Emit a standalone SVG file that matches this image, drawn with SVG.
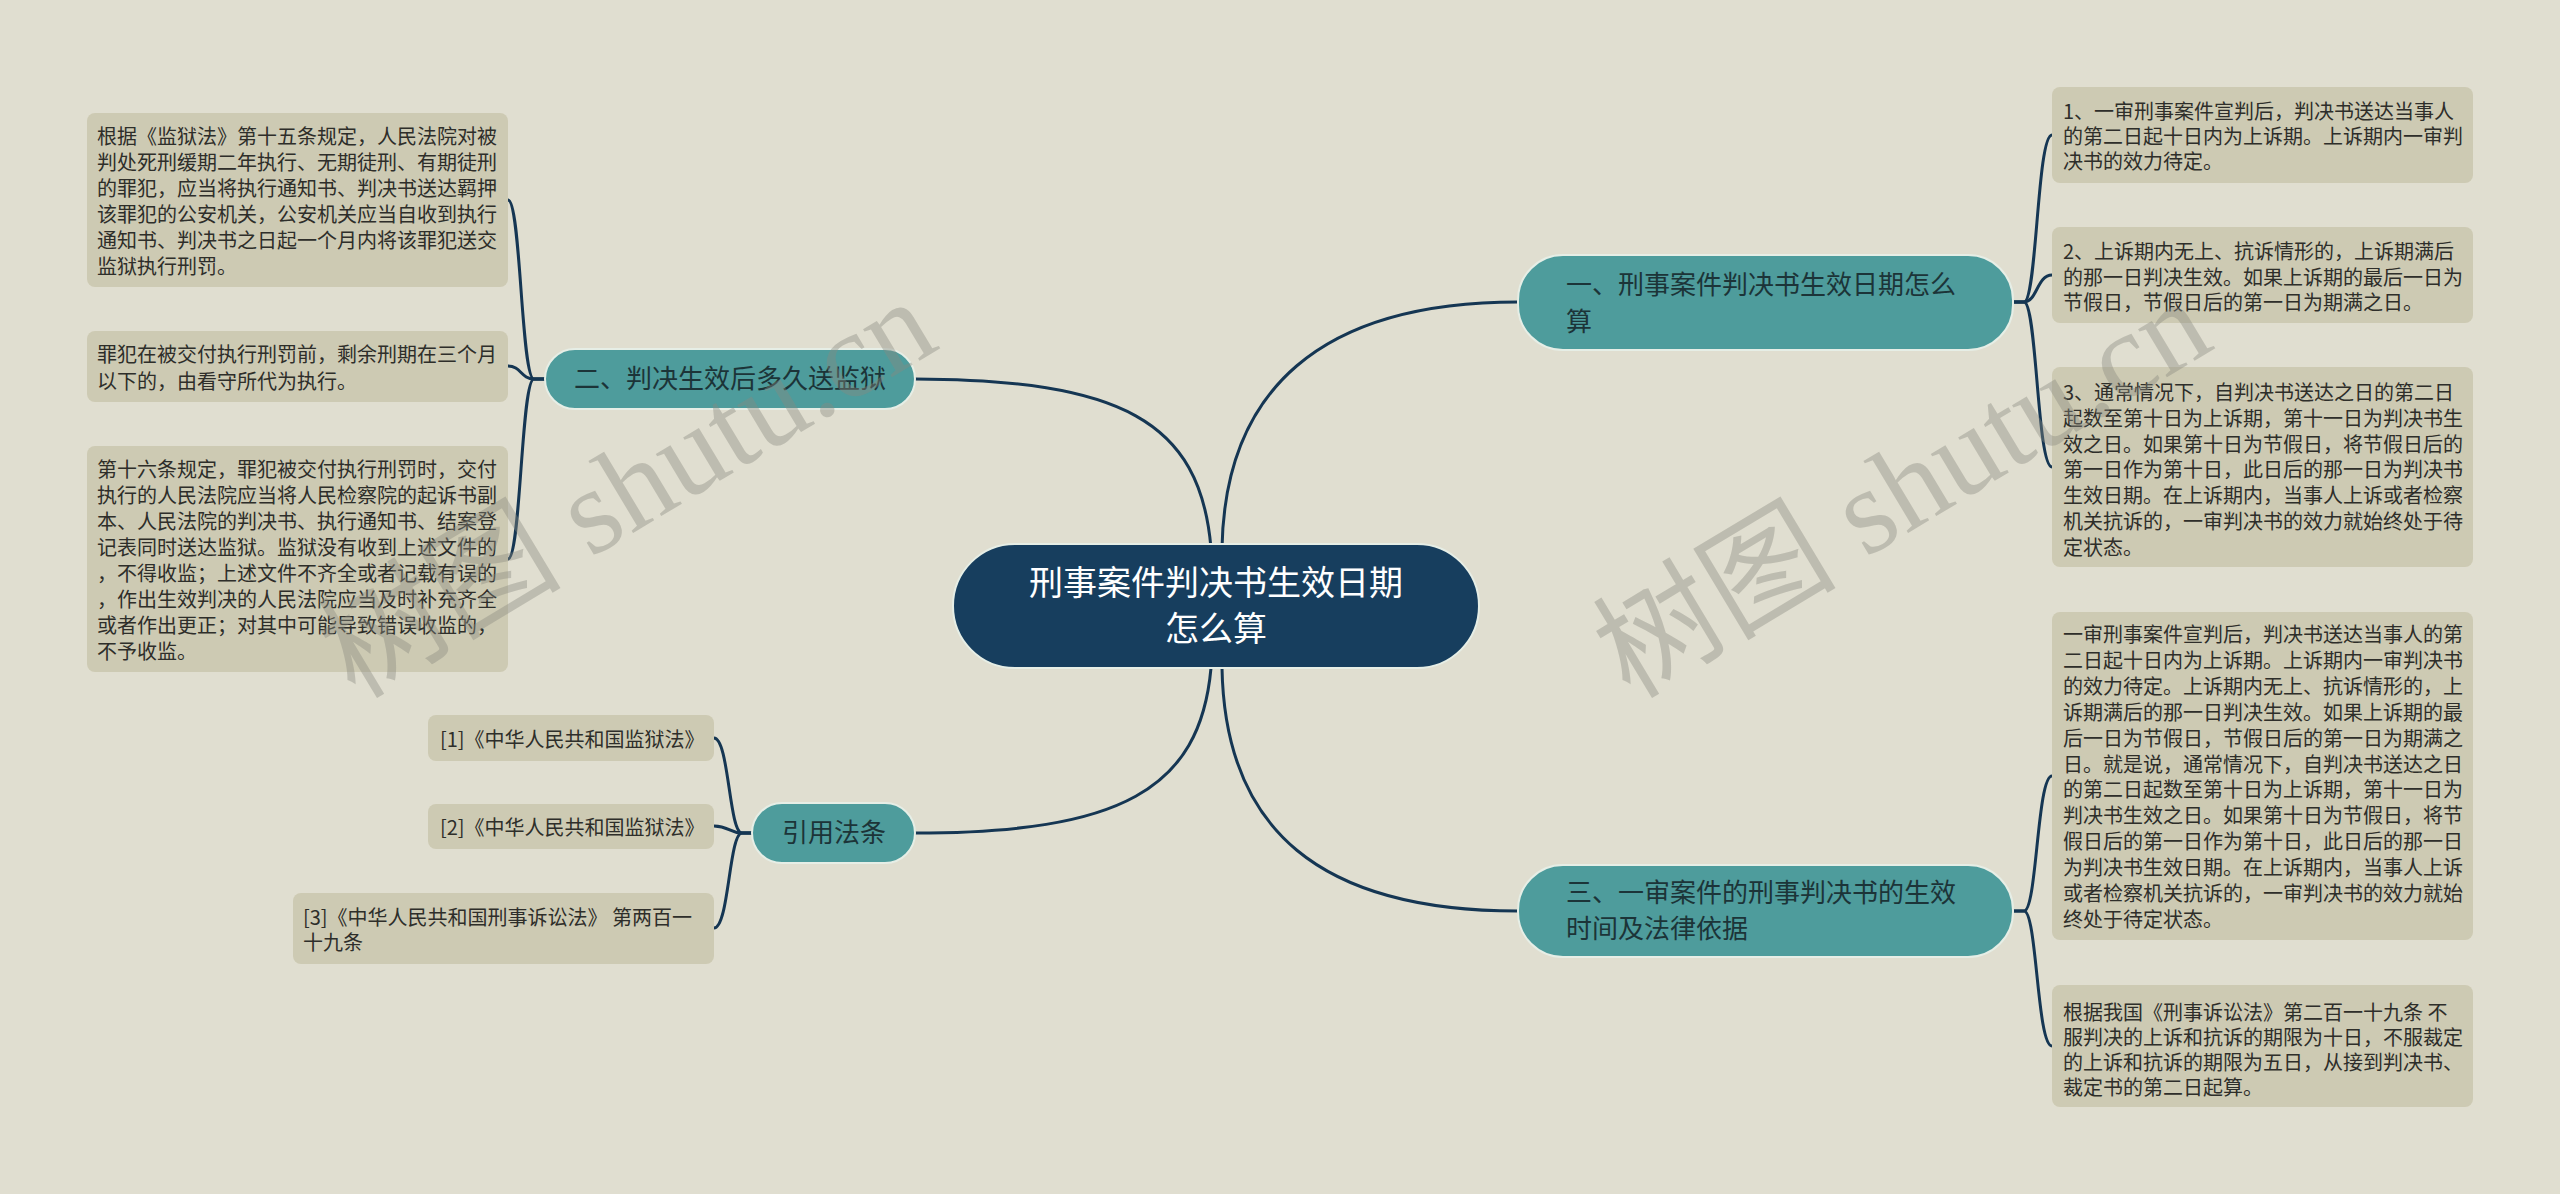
<svg xmlns="http://www.w3.org/2000/svg" width="2560" height="1194" viewBox="0 0 2560 1194">
<style>
.bg{fill:#e0ded0}
.leaf{fill:#cdcab3}
.lt{font-family:"Noto Sans CJK SC","Noto Sans",sans-serif;font-size:20px;fill:#2e2e2a}
.br{fill:#4e9c9c;stroke:#e6eee6;stroke-width:2}
.bt{font-family:"Noto Sans CJK SC","Noto Sans",sans-serif;font-size:26px;fill:#1c3438}
.ct{font-family:"Noto Sans CJK SC","Noto Sans",sans-serif;font-size:34px;fill:#ffffff}
.cn{fill:#173e5e;stroke:#e6eee6;stroke-width:2}
.ln{fill:none;stroke:#153653;stroke-width:3;stroke-linecap:round}
.wm{font-family:"Liberation Serif","Noto Sans CJK SC",serif;font-size:122px;fill:#8a8a80;fill-opacity:0.4}
</style>
<rect class="bg" x="0" y="0" width="2560" height="1194"/>
<g id="connectors">
<path class="ln" d="M1222 548 C1225 390,1320 302,1518 302"/>
<path class="ln" d="M1211 548 C1200 420,1120 380,915 379"/>
<path class="ln" d="M1211 668 C1200 790,1120 833,915 833"/>
<path class="ln" d="M1222 668 C1225 830,1320 911,1518 911"/>
<path class="ln" d="M2013 302 L2024 302 C2037 302,2037 135,2052 135"/>
<path class="ln" d="M2013 302 L2024 302 C2037 302,2037 275,2052 275"/>
<path class="ln" d="M2013 302 L2024 302 C2037 302,2037 467,2052 467"/>
<path class="ln" d="M2013 911 L2024 911 C2037 911,2037 776,2052 776"/>
<path class="ln" d="M2013 911 L2024 911 C2037 911,2037 1046,2052 1046"/>
<path class="ln" d="M545 379 L534 379 C521 379,521 200,508 200"/>
<path class="ln" d="M545 379 L534 379 C521 379,521 366,508 366"/>
<path class="ln" d="M545 379 L534 379 C521 379,521 559,508 559"/>
<path class="ln" d="M752 833 L742 833 C729 833,729 738,714 738"/>
<path class="ln" d="M752 833 L742 833 C729 833,729 826,714 826"/>
<path class="ln" d="M752 833 L742 833 C729 833,729 928,714 928"/>
</g>
<g id="center">
<rect class="cn" x="953" y="544" width="526" height="124" rx="62"/>
<text class="ct" x="1216" y="595" text-anchor="middle">刑事案件判决书生效日期</text>
<text class="ct" x="1216" y="641" text-anchor="middle">怎么算</text>
</g>
<g id="b1">
<rect class="br" x="1518" y="255" width="495" height="95" rx="45"/>
<text class="bt" x="1566" y="294">一、刑事案件判决书生效日期怎么</text>
<text class="bt" x="1566" y="331">算</text>
</g>
<g id="b2">
<rect class="br" x="545" y="349" width="370" height="60" rx="30"/>
<text class="bt" x="730" y="388" text-anchor="middle">二、判决生效后多久送监狱</text>
</g>
<g id="b3">
<rect class="br" x="1518" y="865" width="495" height="92" rx="45"/>
<text class="bt" x="1566" y="902">三、一审案件的刑事判决书的生效</text>
<text class="bt" x="1566" y="938">时间及法律依据</text>
</g>
<g id="b4">
<rect class="br" x="752" y="803" width="163" height="60" rx="30"/>
<text class="bt" x="834" y="842" text-anchor="middle">引用法条</text>
</g>
<g id="r1">
<rect class="leaf" x="2052" y="87" width="421" height="96" rx="8"/>
<text class="lt" x="2063" y="119">1、一审刑事案件宣判后，判决书送达当事人</text>
<text class="lt" x="2063" y="144">的第二日起十日内为上诉期。上诉期内一审判</text>
<text class="lt" x="2063" y="169">决书的效力待定。</text>
</g>
<g id="r2">
<rect class="leaf" x="2052" y="227" width="421" height="96" rx="8"/>
<text class="lt" x="2063" y="259">2、上诉期内无上、抗诉情形的，上诉期满后</text>
<text class="lt" x="2063" y="285">的那一日判决生效。如果上诉期的最后一日为</text>
<text class="lt" x="2063" y="310">节假日，节假日后的第一日为期满之日。</text>
</g>
<g id="r3">
<rect class="leaf" x="2052" y="367" width="421" height="200" rx="8"/>
<text class="lt" x="2063" y="400">3、通常情况下，自判决书送达之日的第二日</text>
<text class="lt" x="2063" y="426">起数至第十日为上诉期，第十一日为判决书生</text>
<text class="lt" x="2063" y="452">效之日。如果第十日为节假日，将节假日后的</text>
<text class="lt" x="2063" y="477">第一日作为第十日，此日后的那一日为判决书</text>
<text class="lt" x="2063" y="503">生效日期。在上诉期内，当事人上诉或者检察</text>
<text class="lt" x="2063" y="529">机关抗诉的，一审判决书的效力就始终处于待</text>
<text class="lt" x="2063" y="555">定状态。</text>
</g>
<g id="r4">
<rect class="leaf" x="2052" y="612" width="421" height="328" rx="8"/>
<text class="lt" x="2063" y="642">一审刑事案件宣判后，判决书送达当事人的第</text>
<text class="lt" x="2063" y="668">二日起十日内为上诉期。上诉期内一审判决书</text>
<text class="lt" x="2063" y="694">的效力待定。上诉期内无上、抗诉情形的，上</text>
<text class="lt" x="2063" y="720">诉期满后的那一日判决生效。如果上诉期的最</text>
<text class="lt" x="2063" y="746">后一日为节假日，节假日后的第一日为期满之</text>
<text class="lt" x="2063" y="772">日。就是说，通常情况下，自判决书送达之日</text>
<text class="lt" x="2063" y="797">的第二日起数至第十日为上诉期，第十一日为</text>
<text class="lt" x="2063" y="823">判决书生效之日。如果第十日为节假日，将节</text>
<text class="lt" x="2063" y="849">假日后的第一日作为第十日，此日后的那一日</text>
<text class="lt" x="2063" y="875">为判决书生效日期。在上诉期内，当事人上诉</text>
<text class="lt" x="2063" y="901">或者检察机关抗诉的，一审判决书的效力就始</text>
<text class="lt" x="2063" y="927">终处于待定状态。</text>
</g>
<g id="r5">
<rect class="leaf" x="2052" y="985" width="421" height="122" rx="8"/>
<text class="lt" x="2063" y="1020">根据我国《刑事诉讼法》第二百一十九条 不</text>
<text class="lt" x="2063" y="1045">服判决的上诉和抗诉的期限为十日，不服裁定</text>
<text class="lt" x="2063" y="1070">的上诉和抗诉的期限为五日，从接到判决书、</text>
<text class="lt" x="2063" y="1095">裁定书的第二日起算。</text>
</g>
<g id="l1">
<rect class="leaf" x="87" y="113" width="421" height="174" rx="8"/>
<text class="lt" x="97" y="144">根据《监狱法》第十五条规定，人民法院对被</text>
<text class="lt" x="97" y="170">判处死刑缓期二年执行、无期徒刑、有期徒刑</text>
<text class="lt" x="97" y="196">的罪犯，应当将执行通知书、判决书送达羁押</text>
<text class="lt" x="97" y="222">该罪犯的公安机关，公安机关应当自收到执行</text>
<text class="lt" x="97" y="248">通知书、判决书之日起一个月内将该罪犯送交</text>
<text class="lt" x="97" y="274">监狱执行刑罚。</text>
</g>
<g id="l2">
<rect class="leaf" x="87" y="331" width="421" height="71" rx="8"/>
<text class="lt" x="97" y="362">罪犯在被交付执行刑罚前，剩余刑期在三个月</text>
<text class="lt" x="97" y="389">以下的，由看守所代为执行。</text>
</g>
<g id="l3">
<rect class="leaf" x="87" y="446" width="421" height="226" rx="8"/>
<text class="lt" x="97" y="477">第十六条规定，罪犯被交付执行刑罚时，交付</text>
<text class="lt" x="97" y="503">执行的人民法院应当将人民检察院的起诉书副</text>
<text class="lt" x="97" y="529">本、人民法院的判决书、执行通知书、结案登</text>
<text class="lt" x="97" y="555">记表同时送达监狱。监狱没有收到上述文件的</text>
<text class="lt" x="97" y="581">，不得收监；上述文件不齐全或者记载有误的</text>
<text class="lt" x="97" y="607">，作出生效判决的人民法院应当及时补充齐全</text>
<text class="lt" x="97" y="633">或者作出更正；对其中可能导致错误收监的，</text>
<text class="lt" x="97" y="659">不予收监。</text>
</g>
<g id="c1">
<rect class="leaf" x="428" y="715" width="286" height="46" rx="8"/>
<text class="lt" x="440" y="747">[1]《中华人民共和国监狱法》</text>
</g>
<g id="c2">
<rect class="leaf" x="428" y="804" width="286" height="45" rx="8"/>
<text class="lt" x="440" y="835">[2]《中华人民共和国监狱法》</text>
</g>
<g id="c3">
<rect class="leaf" x="293" y="893" width="421" height="71" rx="8"/>
<text class="lt" x="303" y="925">[3]《中华人民共和国刑事诉讼法》 第两百一</text>
<text class="lt" x="303" y="950">十九条</text>
</g>
<text class="wm" transform="translate(355 700) rotate(-31)">树图 shutu.cn</text>
<text class="wm" transform="translate(1630 700) rotate(-31)">树图 shutu.cn</text>
</svg>
